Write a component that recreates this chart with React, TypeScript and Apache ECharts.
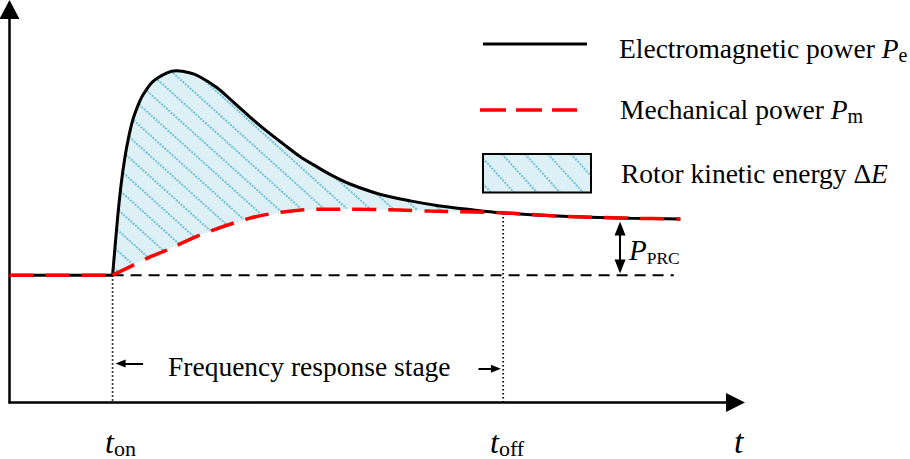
import { useEffect, useRef } from 'react';
import * as echarts from 'echarts';

const SERIF = '"Liberation Serif", "Times New Roman", serif';

// axis ranges (arbitrary units)
const X_MIN = 0;
const X_MAX = 100;
const Y_MIN = 0;
const Y_MAX = 100;

// key instants and levels
const T_ON = 14.2;
const T_OFF = 68.0;
const P_BASE = 32.4;
const P_AT_TOFF = 48.2;
const AREA_END = 67.6;

// steady state before t_on (Pe = Pm)
const steadyX = [0, T_ON];
const steadyY = [P_BASE, P_BASE];

// Electromagnetic power Pe after t_on
const peX = [14.2, 14.5, 14.9, 15.4, 15.9, 16.4, 17.0, 17.7, 18.3, 19.7, 21.7, 23.0, 24.8, 26.2, 28.6, 30.8, 33.1, 35.4, 37.7, 40.0, 42.4, 44.6, 46.9, 51.0, 55.2, 59.3, 63.4, 67.6, 76.2, 85.5, 92.4];
const peY = [32.4, 38.8, 47.2, 55.9, 62.4, 67.4, 72.0, 75.6, 78.0, 81.6, 83.9, 84.4, 83.9, 82.9, 80.1, 76.5, 72.7, 69.1, 65.8, 62.6, 59.9, 57.6, 55.6, 53.0, 51.3, 50.0, 49.1, 48.3, 47.4, 46.9, 46.7];

// Mechanical power Pm after t_on
const pmX = [14.2, 17.0, 19.3, 21.7, 26.2, 33.1, 37.7, 42.3, 46.9, 53.8, 57.9, 67.6, 76.2, 85.5, 92.4];
const pmY = [32.4, 34.9, 37.0, 38.8, 42.6, 46.9, 48.5, 49.2, 49.2, 49.0, 48.7, 48.3, 47.4, 46.9, 46.7];

// initial power reference (black dashed)
const refX = [T_ON, 91.5];
const refY = [P_BASE, P_BASE];

// P_PRC double arrow
const prcArrowX = 84.1;
const prcArrowY = [44.3, 34.6];

// frequency response stage arrows (tail -> head)
const stageLeftX = [18.4, 15.3];
const stageLeftY = 9.9;
const stageRightX = [64.6, 67.0];
const stageRightY = 8.6;

const FILL = '#dcf0f5';
const HATCH = '#74c1d8';
const RED = '#ff0000';

const zip = (xs: number[], ys: number[]) => xs.map((x, i) => [x, ys[i]]);

function interp(arr: number[][], x: number) {
  if (x <= arr[0][0]) return arr[0][1];
  for (let j = 0; j < arr.length - 1; j++) {
    const a = arr[j];
    const b = arr[j + 1];
    if (x >= a[0] && x <= b[0]) {
      const t = b[0] === a[0] ? 0 : (x - a[0]) / (b[0] - a[0]);
      return a[1] + t * (b[1] - a[1]);
    }
  }
  return arr[arr.length - 1][1];
}

const hatchStyle = { stroke: HATCH, lineWidth: 2, lineDash: [2, 1.2] };

function renderArea(_params: any, api: any) {
  const up: number[][] = [];
  for (let i = 0; i < peX.length; i++) if (peX[i] <= AREA_END) up.push(api.coord([peX[i], peY[i]]));
  const lo: number[][] = [];
  for (let i = 0; i < pmX.length; i++) if (pmX[i] <= AREA_END) lo.push(api.coord([pmX[i], pmY[i]]));
  const poly = up.concat(lo.slice().reverse());
  const children: any[] = [
    { type: 'polygon', shape: { points: poly }, style: { fill: FILL, stroke: 'none' } },
  ];
  const xL = up[0][0];
  const xR = up[up.length - 1][0];
  let minY = Infinity;
  let maxY = -Infinity;
  poly.forEach((p) => {
    minY = Math.min(minY, p[1]);
    maxY = Math.max(maxY, p[1]);
  });
  const m = 0.9;
  const hs = 23;
  const vs = m * hs;
  const bMin = minY - m * xR;
  const bMax = maxY - m * xL;
  for (let b = Math.floor(bMin / vs) * vs; b <= bMax; b += vs) {
    let start: number[] | null = null;
    let last: number[] | null = null;
    for (let x = xL; x <= xR + 0.01; x += 0.5) {
      const y = m * x + b;
      const inside = y >= interp(up, x) + 1 && y <= interp(lo, x) - 0.5;
      if (inside) {
        if (!start) start = [x, y];
        last = [x, y];
      } else if (start && last) {
        if (last[0] - start[0] > 1) children.push({ type: 'line', shape: { x1: start[0], y1: start[1], x2: last[0], y2: last[1] }, style: hatchStyle });
        start = null;
        last = null;
      }
    }
    if (start && last && last[0] - start[0] > 1) children.push({ type: 'line', shape: { x1: start[0], y1: start[1], x2: last[0], y2: last[1] }, style: hatchStyle });
  }
  return { type: 'group', children };
}

function rectHatch(left: number, top: number, w: number, h: number, m: number, hs: number, anchorX: number) {
  const out: any[] = [];
  const right = left + w;
  for (let k = -10; k <= 10; k++) {
    const a = anchorX + k * hs;
    const x1 = Math.max(left, a);
    const x2 = Math.min(right, a + h / m);
    if (x2 - x1 < 0.5) continue;
    out.push({
      type: 'line',
      shape: { x1, y1: top + m * (x1 - a), x2, y2: top + m * (x2 - a) },
      style: hatchStyle,
      silent: true,
    });
  }
  return out;
}

const MAIN = 27.5;
const mainTok = { fontFamily: SERIF, fontSize: MAIN, fill: '#000' };
const italTok = { fontFamily: SERIF, fontSize: MAIN, fontStyle: 'italic', fill: '#000' };
const subTok = { fontFamily: SERIF, fontSize: 20, fill: '#000', padding: [12, 0, 0, 0] };

function txt(x: number, y: number, text: string, rich: any) {
  return {
    type: 'text',
    x,
    y,
    silent: true,
    style: { text, rich, align: 'left', verticalAlign: 'middle', fill: '#000', fontFamily: SERIF, fontSize: MAIN },
  };
}

function buildOption(): any {
  const legendRich = { n: mainTok, i: italTok, s: subTok };
  const tRich = {
    t: { fontFamily: SERIF, fontSize: 32, fontStyle: 'italic', fill: '#000' },
    s: { fontFamily: SERIF, fontSize: 22, fill: '#000', padding: [12, 0, 0, 0] },
  };
  const prcRich = {
    i: { fontFamily: SERIF, fontSize: 29, fontStyle: 'italic', fill: '#000' },
    s: { fontFamily: SERIF, fontSize: 17.5, fill: '#000', padding: [15, 0, 0, 0] },
  };
  const graphic: any[] = [
    { type: 'line', silent: true, shape: { x1: 483, y1: 44, x2: 587, y2: 44 }, style: { stroke: '#000', lineWidth: 3 } },
    { type: 'line', silent: true, shape: { x1: 480, y1: 110, x2: 577, y2: 110 }, style: { stroke: RED, lineWidth: 3.5, lineDash: [26, 10] } },
    { type: 'rect', silent: true, shape: { x: 483, y: 154, width: 108, height: 38.5 }, style: { fill: FILL, stroke: 'none' } },
    ...rectHatch(483, 154, 108, 38.5, 1.1, 23, 502),
    { type: 'rect', silent: true, shape: { x: 483, y: 154, width: 108, height: 38.5 }, style: { fill: 'none', stroke: '#000', lineWidth: 2 } },
    txt(619, 48.8, '{n|Electromagnetic power }{i|P}{s|e}', legendRich),
    txt(620, 109.8, '{n|Mechanical power }{i|P}{s|m}', legendRich),
    txt(621, 173.8, '{n|Rotor kinetic energy Δ}{i|E}', legendRich),
    txt(629, 250.3, '{i|P}{s|PRC}', prcRich),
    txt(168, 366.8, '{n|Frequency response stage}', legendRich),
    txt(105, 442, '{t|t}{s|on}', tRich),
    txt(490, 442, '{t|t}{s|off}', tRich),
    txt(734, 441.6, '{t|t}', { t: { fontFamily: SERIF, fontSize: 34, fontStyle: 'italic', fill: '#000' } }),
  ];

  const axisCommon = {
    type: 'value',
    axisTick: { show: false },
    axisLabel: { show: false },
    splitLine: { show: false },
  };

  return {
    animation: false,
    backgroundColor: '#fff',
    grid: { left: 9.5, right: 174.5, top: 9.5, bottom: 56.5, containLabel: false },
    xAxis: {
      ...axisCommon,
      min: X_MIN,
      max: X_MAX,
      axisLine: { show: true, symbol: ['none', 'triangle'], symbolSize: [19, 19], lineStyle: { color: '#000', width: 2.5 } },
    },
    yAxis: {
      ...axisCommon,
      min: Y_MIN,
      max: Y_MAX,
      axisLine: { show: true, symbol: ['none', 'triangle'], symbolSize: [20, 19], lineStyle: { color: '#000', width: 2.5 } },
    },
    graphic,
    series: [
      {
        type: 'custom',
        name: 'Rotor kinetic energy',
        renderItem: renderArea,
        data: [[T_ON, P_BASE]],
        encode: { x: 0, y: 1 },
        clip: false,
        silent: true,
        z: 1,
      },
      {
        type: 'line',
        name: 'Initial power',
        data: zip(refX, refY),
        symbol: 'none',
        silent: true,
        lineStyle: { color: '#000', width: 2, type: [11, 7] },
        z: 2,
      },
      {
        type: 'line',
        name: 'Pe steady',
        data: zip(steadyX, steadyY),
        symbol: 'none',
        silent: true,
        lineStyle: { color: '#000', width: 3 },
        z: 3,
      },
      {
        type: 'line',
        name: 'Electromagnetic power',
        data: zip(peX, peY),
        symbol: 'none',
        smooth: 0.3,
        silent: true,
        lineStyle: { color: '#000', width: 3 },
        z: 3,
      },
      {
        type: 'line',
        name: 'Pm steady',
        data: zip(steadyX, steadyY),
        symbol: 'none',
        silent: true,
        lineStyle: { color: RED, width: 3.5, type: [24, 12] },
        z: 4,
      },
      {
        type: 'line',
        name: 'Mechanical power',
        data: zip(pmX, pmY),
        symbol: 'none',
        smooth: 0.3,
        silent: true,
        lineStyle: { color: RED, width: 3.5, type: [24, 12] },
        z: 4,
      },
      {
        type: 'line',
        name: 't_on guide',
        data: [[T_ON, P_BASE], [T_ON, Y_MIN]],
        symbol: 'none',
        silent: true,
        lineStyle: { color: '#000', width: 1.8, type: [1.5, 2.5] },
        z: 2,
      },
      {
        type: 'line',
        name: 't_off guide',
        data: [[T_OFF, P_AT_TOFF], [T_OFF, Y_MIN]],
        symbol: 'none',
        silent: true,
        lineStyle: { color: '#000', width: 1.8, type: [1.5, 2.5] },
        z: 2,
        markLine: {
          silent: true,
          symbol: ['none', 'triangle'],
          symbolSize: [8, 10],
          label: { show: false },
          emphasis: { disabled: true },
          lineStyle: { color: '#000', width: 2, type: 'solid' },
          data: [
            [
              { coord: [prcArrowX, prcArrowY[0]], symbol: 'triangle', symbolSize: [11, 14] },
              { coord: [prcArrowX, prcArrowY[1]], symbol: 'triangle', symbolSize: [11, 14] },
            ],
            [{ coord: [stageLeftX[0], stageLeftY] }, { coord: [stageLeftX[1], stageLeftY] }],
            [{ coord: [stageRightX[0], stageRightY] }, { coord: [stageRightX[1], stageRightY] }],
          ],
        },
      },
    ],
  };
}

export default function App() {
  const ref = useRef<HTMLDivElement>(null);
  useEffect(() => {
    document.body.style.margin = '0';
    const chart = echarts.init(ref.current!, null, { renderer: 'svg' });
    chart.setOption(buildOption());
    return () => chart.dispose();
  }, []);
  return <div ref={ref} style={{ position: 'fixed', left: 0, top: 0, width: 910, height: 459, background: '#fff' }} />;
}
